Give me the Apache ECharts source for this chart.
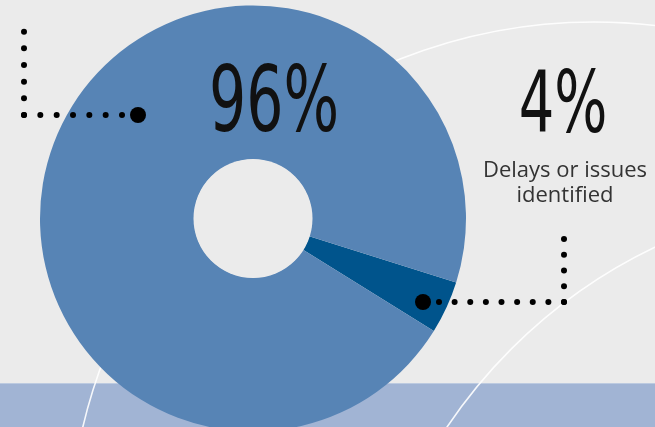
<!DOCTYPE html>
<html>
<head>
<meta charset="utf-8">
<script src="https://cdn.jsdelivr.net/npm/echarts@6/dist/echarts.min.js"></script>
<style>
  html, body { margin: 0; padding: 0; background: #ebebeb; }
  #chart { width: 655px; height: 427px; }
</style>
</head>
<body>
<div id="chart"></div>
<script>
// data
const categories = ['Delays or issues identified', 'No delays'];
const values = [4, 96];
const colors = ['#00548c', '#5784b5'];
const caption = ['Delays or issues', 'identified'];

// row of dots between two points, n dots including both ends
function dots(x0, y0, x1, y1, n, r) {
    let out = [];
    for (let i = 0; i < n; i++) {
        let t = n > 1 ? i / (n - 1) : 0;
        out.push({
            type: 'circle', z: 100, silent: true,
            shape: { cx: x0 + (x1 - x0) * t, cy: y0 + (y1 - y0) * t, r: r },
            style: { fill: '#000' }
        });
    }
    return out;
}

function bigText(text, x, y, size, sx) {
    return {
        type: 'text', z: 100, silent: true,
        x: x, y: y, scaleX: sx,
        style: {
            text: text, fill: '#111',
            font: 'normal ' + size + 'px "DejaVu Sans"',
            align: 'center', verticalAlign: 'middle'
        }
    };
}

let myChart = echarts.init(document.getElementById('chart'));

let graphics = [
    // bottom band
    { type: 'rect', z: 0, silent: true, shape: { x: 0, y: 383, width: 655, height: 44 }, style: { fill: '#a1b4d4' } },
    { type: 'rect', z: 0, silent: true, shape: { x: 0, y: 383, width: 655, height: 1 }, style: { fill: '#bccae0' } },
    // decorative white arcs
    { type: 'circle', z: 1, silent: true, shape: { cx: 594, cy: 547, r: 525 }, style: { fill: 'none', stroke: 'rgba(255,255,255,0.9)', lineWidth: 1.6 } },
    { type: 'circle', z: 1, silent: true, shape: { cx: 880, cy: 717, r: 521 }, style: { fill: 'none', stroke: 'rgba(255,255,255,0.9)', lineWidth: 1.6 } },
    // plain donut hole
    { type: 'circle', z: 50, silent: true, shape: { cx: 253, cy: 218.5, r: 59.5 }, style: { fill: '#ebebeb' } },
    // labels
    bigText(values[1] + '%', 274, 108, 90, 0.65),
    bigText(values[0] + '%', 563, 110, 86, 0.65),
    {
        type: 'text', z: 100, silent: true, x: 565, y: 208,
        style: {
            text: caption.join('\n'), fill: '#333', lineHeight: 25,
            font: 'normal 22px "Open Sans"', align: 'center', verticalAlign: 'bottom'
        }
    },
    // leader dots
    { type: 'circle', z: 100, silent: true, shape: { cx: 138, cy: 115, r: 8 }, style: { fill: '#000' } },
    { type: 'circle', z: 100, silent: true, shape: { cx: 423, cy: 302, r: 8 }, style: { fill: '#000' } }
];
graphics = graphics
    .concat(dots(24, 31.7, 24, 115, 6, 3))
    .concat(dots(24, 115, 122, 115, 7, 3))
    .concat(dots(439, 302, 564, 302, 9, 3))
    .concat(dots(564, 239, 564, 302, 5, 3));

const option = {
    backgroundColor: '#ebebeb',
    animation: false,
    graphic: { elements: graphics },
    series: [
        {
            type: 'pie',
            z: 5,
            center: [253, 218.5],
            radius: [59, 213],
            startAngle: -17.5,
            clockwise: true,
            label: { show: false },
            labelLine: { show: false },
            silent: true,
            data: categories.map((c, i) => ({
                name: c, value: values[i], itemStyle: { color: colors[i] }
            }))
        }
    ]
};
myChart.setOption(option);
</script>
</body>
</html>
